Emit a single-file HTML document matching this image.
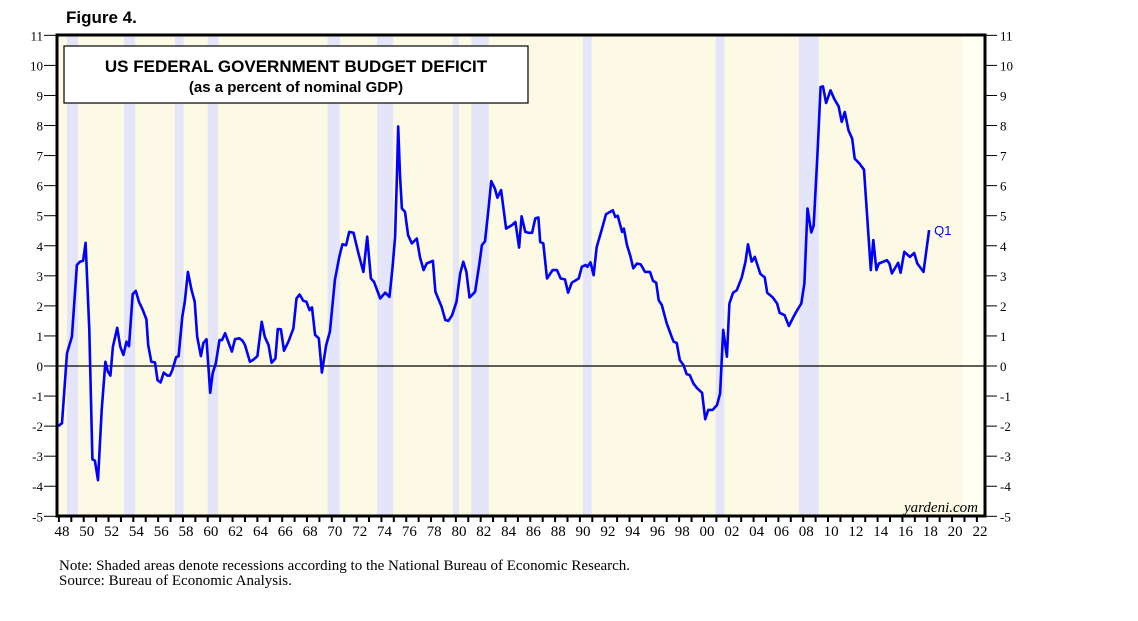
<!DOCTYPE html>
<html><head><meta charset="utf-8">
<style>
body{margin:0;background:#fff;width:1138px;height:621px;overflow:hidden;}
svg{display:block;}
</style></head>
<body>
<svg id="chart" width="1138" height="621" xmlns="http://www.w3.org/2000/svg">
<text x="66" y="23" font-family="Liberation Sans, sans-serif" font-weight="bold" font-size="17">Figure 4.</text>
<g id="plot"></g>
<text x="978" y="512" text-anchor="end" font-family="Liberation Serif, serif" font-style="italic" font-size="15">yardeni.com</text>
<text x="59" y="570" font-family="Liberation Serif, serif" font-size="15">Note: Shaded areas denote recessions according to the National Bureau of Economic Research.</text>
<text x="59" y="585" font-family="Liberation Serif, serif" font-size="15">Source: Bureau of Economic Analysis.</text>
</svg>
<script>
const years=[1948.2,1948.5,1948.9,1949.3,1949.7,1949.95,1950.2,1950.4,1950.7,1950.95,1951.15,1951.4,1951.7,1952.0,1952.2,1952.4,1952.6,1952.95,1953.2,1953.45,1953.7,1953.9,1954.2,1954.45,1954.7,1955.0,1955.3,1955.45,1955.7,1956.0,1956.2,1956.45,1956.7,1957.0,1957.2,1957.4,1957.7,1957.9,1958.2,1958.4,1958.65,1958.95,1959.2,1959.4,1959.7,1959.9,1960.15,1960.45,1960.65,1960.9,1961.2,1961.4,1961.65,1961.9,1962.2,1962.45,1962.8,1963.05,1963.25,1963.65,1963.9,1964.25,1964.6,1964.85,1965.15,1965.4,1965.7,1965.9,1966.15,1966.4,1966.75,1967.15,1967.4,1967.65,1967.95,1968.2,1968.45,1968.65,1968.9,1969.2,1969.45,1969.8,1970.1,1970.5,1970.85,1971.1,1971.4,1971.65,1972.0,1972.4,1972.8,1973.1,1973.4,1973.65,1974.15,1974.55,1974.9,1975.15,1975.35,1975.5,1975.6,1975.75,1975.9,1976.15,1976.4,1976.7,1977.1,1977.35,1977.65,1977.9,1978.4,1978.6,1979.1,1979.4,1979.65,1979.95,1980.3,1980.6,1980.85,1981.1,1981.35,1981.8,1982.15,1982.35,1982.6,1982.9,1983.1,1983.4,1983.6,1983.9,1984.3,1984.75,1985.05,1985.35,1985.55,1985.85,1986.1,1986.4,1986.65,1986.9,1987.05,1987.3,1987.6,1988.05,1988.4,1988.7,1989.05,1989.3,1989.6,1990.15,1990.4,1990.7,1990.85,1991.1,1991.35,1991.6,1992.0,1992.35,1992.7,1992.9,1993.1,1993.3,1993.65,1993.8,1994.05,1994.3,1994.55,1994.85,1995.15,1995.5,1995.9,1996.15,1996.4,1996.6,1996.85,1997.25,1997.65,1997.8,1998.05,1998.3,1998.6,1998.85,1999.1,1999.4,1999.7,2000.1,2000.35,2000.6,2000.95,2001.3,2001.55,2001.8,2002.1,2002.3,2002.6,2002.9,2003.3,2003.6,2003.8,2004.1,2004.35,2004.8,2005.15,2005.35,2005.8,2006.15,2006.35,2006.75,2007.1,2007.5,2007.8,2008.1,2008.35,2008.6,2008.9,2009.1,2009.4,2009.65,2009.85,2010.1,2010.45,2010.75,2011.1,2011.35,2011.6,2011.9,2012.2,2012.4,2012.8,2013.15,2013.7,2013.9,2014.15,2014.35,2015.0,2015.2,2015.4,2015.9,2016.1,2016.4,2016.85,2017.2,2017.45,2017.95,2018.4];
const deficit=[-2.0,-1.9,0.43,0.97,3.36,3.47,3.5,4.1,1.2,-3.1,-3.15,-3.8,-1.46,0.14,-0.19,-0.32,0.64,1.27,0.64,0.37,0.81,0.66,2.39,2.5,2.14,1.88,1.55,0.7,0.14,0.12,-0.47,-0.55,-0.22,-0.32,-0.32,-0.13,0.29,0.33,1.64,2.14,3.13,2.52,2.14,0.97,0.33,0.77,0.89,-0.89,-0.24,0.09,0.86,0.86,1.09,0.81,0.48,0.89,0.92,0.84,0.7,0.14,0.2,0.33,1.47,0.97,0.7,0.11,0.25,1.23,1.22,0.51,0.81,1.25,2.25,2.38,2.17,2.14,1.86,1.95,1.03,0.92,-0.22,0.7,1.14,2.86,3.63,4.05,4.02,4.46,4.43,3.74,3.13,4.3,2.91,2.8,2.25,2.44,2.3,3.3,4.3,6.29,7.97,6.35,5.24,5.13,4.35,4.08,4.24,3.63,3.19,3.41,3.5,2.47,1.97,1.53,1.5,1.69,2.14,3.08,3.47,3.13,2.28,2.47,3.41,4.02,4.15,5.29,6.15,5.9,5.6,5.85,4.57,4.68,4.79,3.94,4.98,4.46,4.43,4.43,4.91,4.94,4.13,4.08,2.91,3.19,3.19,2.91,2.88,2.44,2.77,2.91,3.3,3.36,3.3,3.45,3.02,3.96,4.52,5.05,5.13,5.18,4.96,5.0,4.46,4.57,4.02,3.69,3.25,3.41,3.38,3.13,3.13,2.83,2.77,2.19,2.03,1.42,0.97,0.81,0.77,0.2,0.03,-0.27,-0.3,-0.58,-0.74,-0.89,-1.77,-1.46,-1.46,-1.3,-0.91,1.2,0.31,2.08,2.44,2.52,2.95,3.47,4.05,3.47,3.63,3.06,2.95,2.44,2.28,2.08,1.77,1.69,1.33,1.66,1.88,2.08,2.75,5.24,4.44,4.68,7.07,9.28,9.3,8.75,9.17,8.89,8.64,8.12,8.45,7.84,7.56,6.9,6.73,6.53,3.19,4.19,3.19,3.41,3.52,3.41,3.08,3.43,3.1,3.8,3.63,3.76,3.41,3.13,4.52];
const recessionStart=[1948.9,1953.5,1957.6,1960.25,1969.9,1973.9,1980.0,1981.5,1990.5,2001.2,2007.9];
const recessionEnd=[1949.8,1954.4,1958.3,1961.1,1970.9,1975.2,1980.5,1982.9,1991.2,2001.9,2009.5];
const yTicks=[11,10,9,8,7,6,5,4,3,2,1,0,-1,-2,-3,-4,-5];
const xLabels=["48","50","52","54","56","58","60","62","64","66","68","70","72","74","76","78","80","82","84","86","88","90","92","94","96","98","00","02","04","06","08","10","12","14","16","18","20","22"];

const L=57,R=985,T=35,B=516;
const X=yr=>62+(yr-1948.5)*12.405;
const Y=v=>366-v*30.06;
const NS="http://www.w3.org/2000/svg";
const g=document.getElementById('plot');
function mk(tag,attrs,parent){const e=document.createElementNS(NS,tag);for(const k in attrs)e.setAttribute(k,attrs[k]);(parent||g).appendChild(e);return e;}

let e=mk('rect',{x:L,y:T,width:X(2021.1)-L,height:B-T,fill:'#fcfae4'});


e=mk('rect',{x:X(2021.1),y:T,width:R-X(2021.1),height:B-T,fill:'#fffff2'});


for(let i=0;i<recessionStart.length;i++){
  const r=mk('rect',{x:X(recessionStart[i]),y:T,width:X(recessionEnd[i])-X(recessionStart[i]),height:B-T,fill:'#e5e5fa'});
  
  
}
e=mk('line',{x1:L,x2:R,y1:Y(0),y2:Y(0),stroke:'#000','stroke-width':1.3});



yTicks.forEach(v=>{
  const y=Y(v);
  let t=mk('line',{x1:L-13,x2:L,y1:y,y2:y,stroke:'#000','stroke-width':1});
  
  
  t=mk('line',{x1:R,x2:R+12,y1:y,y2:y,stroke:'#000','stroke-width':1});
  
  
  let lb=mk('text',{x:L-14,y:y+5,'text-anchor':'end','font-family':'Liberation Serif, serif','font-size':13});
  lb.textContent=v;
  
  
  lb=mk('text',{x:R+15,y:y+5,'font-family':'Liberation Serif, serif','font-size':13});
  lb.textContent=v;
  
  
});
for(let yr=1948;yr<=2022;yr++){
  const t=mk('line',{x1:X(yr+0.25),x2:X(yr+0.25),y1:B,y2:B+6,stroke:'#000','stroke-width':2});
  
  
}
xLabels.forEach((s,i)=>{
  const lb=mk('text',{x:X(1948.5+2*i),y:B+20,'text-anchor':'middle','font-family':'Liberation Serif, serif','font-size':15});
  lb.textContent=s;
  
  
});

const pts=years.map((yr,i)=>X(yr).toFixed(1)+','+Y(deficit[i]).toFixed(1)).join(' ');
e=mk('polyline',{points:pts,fill:'none',stroke:'#0000ff','stroke-width':2.6,'stroke-linejoin':'round'});


e=mk('text',{x:X(years[years.length-1])+5,y:Y(deficit[deficit.length-1])+5,fill:'#0000ff','font-family':'Liberation Sans, sans-serif','font-size':13});
e.textContent='Q1';



e=mk('rect',{x:L,y:T,width:R-L,height:B-T,fill:'none',stroke:'#000','stroke-width':3});



const box=mk('g',{});


mk('rect',{x:64,y:46,width:464,height:57,fill:'#fff',stroke:'#000','stroke-width':1.2},box);
e=mk('text',{x:296,y:72,'text-anchor':'middle','font-family':'Liberation Sans, sans-serif','font-weight':'bold','font-size':17},box);
e.textContent='US FEDERAL GOVERNMENT BUDGET DEFICIT';


e=mk('text',{x:296,y:92,'text-anchor':'middle','font-family':'Liberation Sans, sans-serif','font-weight':'bold','font-size':15},box);
e.textContent='(as a percent of nominal GDP)';


</script>
</body></html>
